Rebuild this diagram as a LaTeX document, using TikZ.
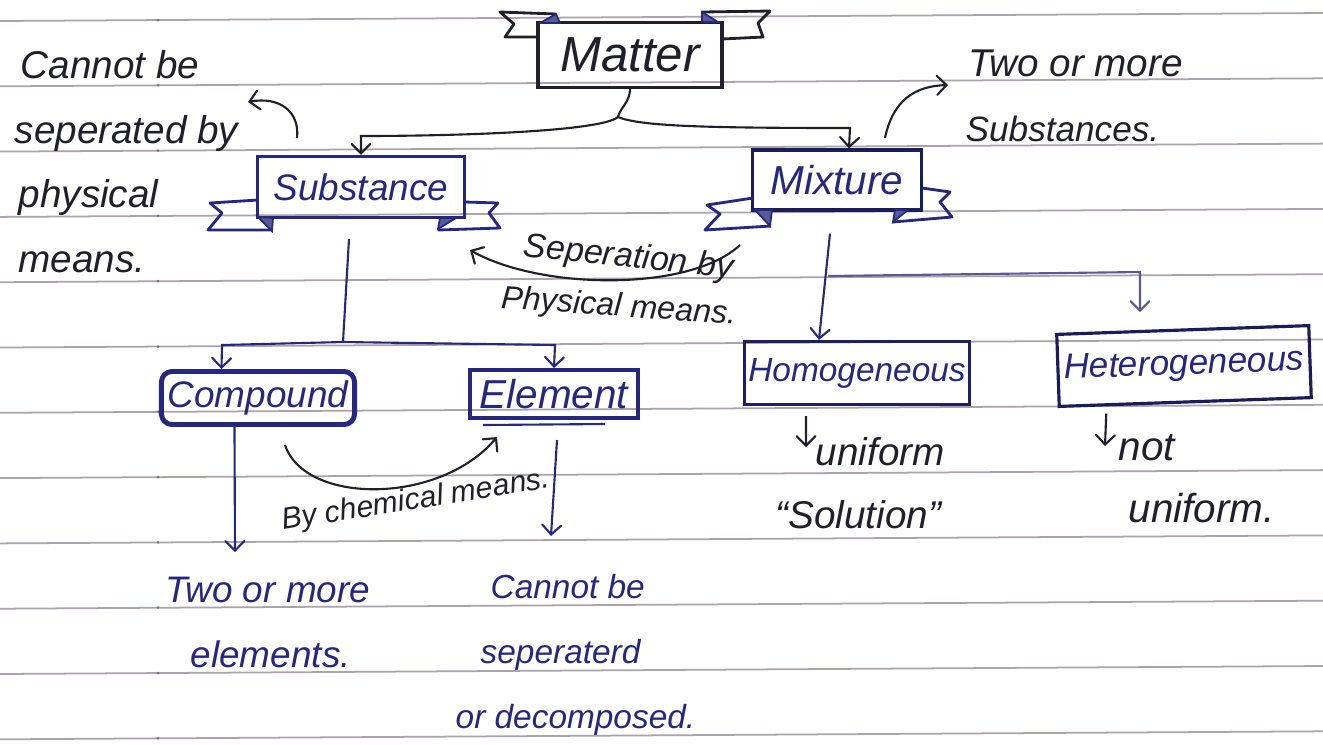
\documentclass[tikz,border=0pt]{standalone}
\usepackage{fontspec}
\setmainfont{Liberation Sans}
\usepackage{xcolor}
\usepackage{tikz}
\usetikzlibrary{arrows}

\definecolor{ink}{RGB}{38,40,128}
\definecolor{pen}{RGB}{32,32,44}
\definecolor{rule}{RGB}{172,162,172}
\definecolor{fold}{RGB}{88,90,150}

\tikzset{
  hand/.style={font=\itshape\fontsize{#1}{#1}\selectfont, text=pen, inner sep=0pt},
  hand/.default=11,
  inkhand/.style={hand=#1, text=ink},
  inkhand/.default=11,
  box/.style={draw=ink, line width=0.9pt, inner sep=0pt, font=\itshape\fontsize{#1}{#1}\selectfont, text=ink},
  box/.default=10.5,
  tab/.style={draw=ink, line width=0.8pt, line join=round},
  foldfill/.style={fill=fold, draw=ink, line width=0.5pt},
  link/.style={draw=pen, line width=0.6pt, ->, >=angle 90},
}

\begin{document}
\begin{tikzpicture}[x=0.01cm,y=-0.01cm]
		\useasboundingbox (0,0) rectangle (1323,744);
		\fill[white] (0,0) rectangle (1323,744);
		% ruled paper
		\foreach \i in {0,...,11} {
			\draw[rule, line width=0.5pt] (0,17+65.3*\i+4) -- (1323,17+65.3*\i-4);
			\fill[rule!70!black] (158,17+65.3*\i+3) circle (1.5);
		}
		%
		\node[box=14, draw=pen, text=pen, minimum width=1.84cm, minimum height=0.65cm] (matter) at (630,55) {Matter};
		\node[box=10.5, minimum width=2.07cm, minimum height=0.61cm] (substance) at (361,187) {Substance};
		\node[box=11.5, draw=ink!70!black, minimum width=1.69cm, minimum height=0.6cm] (mixture) at (837,180) {Mixture};
		\node[box=10.5, line width=1.4pt, rounded corners=3pt, minimum width=1.93cm, minimum height=0.53cm] (compound) at (258,398) {Compound};
		\node[box=11.5, line width=1.1pt, minimum width=1.68cm, minimum height=0.48cm] (element) at (554,394) {Element};
		\node[box=9.5, draw=ink!80!black, minimum width=2.25cm, minimum height=0.63cm] (homog) at (857,373) {Homogeneous};
		\node[box=10, draw=ink!70!black, rotate=2, minimum width=2.52cm, minimum height=0.72cm] (heterog) at (1184,366) {Heterogeneous};
		%
		% ribbon tabs
		\draw[tab, draw=pen] (556,14) -- (500,12) -- (514,24) -- (505,37) -- (538,37);
		\draw[tab, draw=pen] (702,12) -- (770,11) -- (758,23) -- (763,37) -- (722,39);
		\filldraw[foldfill] (540,23) -- (556,14) -- (560,23) -- cycle;
		\filldraw[foldfill] (702,12) -- (718,22) -- (702,22) -- cycle;
		\draw[tab] (258,200) -- (210,203) -- (222,213) -- (208,230) -- (272,230);
		\draw[tab] (465,202) -- (498,203) -- (489,213) -- (500,228) -- (438,230);
		\filldraw[foldfill] (258,217) -- (273,218) -- (272,231) -- cycle;
		\filldraw[foldfill] (438,229) -- (456,218) -- (440,218) -- cycle;
		\draw[tab] (753,198) -- (707,205) -- (720,214) -- (705,230) -- (771,226);
		\draw[tab] (922,188) -- (950,192) -- (940,202) -- (952,217) -- (893,222);
		\filldraw[foldfill] (755,210) -- (772,210) -- (770,226) -- cycle;
		\filldraw[foldfill] (893,222) -- (908,210) -- (895,210) -- cycle;
		\draw[ink, line width=0.6pt] (483,425) -- (605,424);
		%
		% notes
		\node[hand=11, anchor=base west] (subnote1) at (20,78) {Cannot be};
		\node[hand=11, anchor=base west] (subnote2) at (14,143) {seperated by};
		\node[hand=11, anchor=base west] (subnote3) at (18,207) {physical};
		\node[hand=11, anchor=base west] (subnote4) at (18,272) {means.};
		\node[hand=11, anchor=base west] (mixnote1) at (968,76) {Two or more};
		\node[hand=10, anchor=base west] (mixnote2) at (965,141) {Substances.};
		\node[hand=9.7, anchor=base west, rotate=-6] (seplabel1) at (522,256) {Seperation by};
		\node[hand=9.2, anchor=base west, rotate=-4] (seplabel2) at (500,308) {Physical means.};
		\node[hand=8.6, anchor=base west, rotate=9] (chemlabel) at (283,530) {By chemical means.};
		\node[inkhand=10.5, anchor=base west] (compnote1) at (165,602) {Two or more};
		\node[inkhand=10.5, anchor=base west] (compnote2) at (190,667) {elements.};
		\node[inkhand=9.5, anchor=base west] (elemnote1) at (490,598) {Cannot be};
		\node[inkhand=9.5, anchor=base west] (elemnote2) at (480,663) {seperaterd};
		\node[inkhand=9.5, anchor=base west] (elemnote3) at (455,728) {or decomposed.};
		\node[hand=11, anchor=base west] (homnote1) at (815,465) {uniform};
		\node[hand=11, anchor=base west] (homnote2) at (775,528) {``Solution''};
		\node[hand=11.5, anchor=base west] (hetnote1) at (1118,460) {not};
		\node[hand=11.5, anchor=base west] (hetnote2) at (1128,522) {uniform.};
		%
		% free ends
		\coordinate (mfork) at (618,117);
		\coordinate (sfork) at (343,342);
		\coordinate (xfork) at (828,276);
		\coordinate (hetin) at (1140,312);
		\coordinate (physfrom) at (297,138);
		\coordinate (physto) at (248,102);
		\coordinate (twofrom) at (885,138);
		\coordinate (twoto) at (948,85);
		\coordinate (sepfrom) at (740,245);
		\coordinate (septo) at (470,250);
		\coordinate (chemfrom) at (285,445);
		\coordinate (chemto) at (497,437);
		\coordinate (compout) at (235,552);
		\coordinate (elemfrom) at (557,440);
		\coordinate (elemout) at (551,536);
		\coordinate (homout) at (806,447);
		\coordinate (hetout) at (1105,446);
		%
		\draw[pen, line width=0.6pt] (matter.south) .. controls (630,102) and (620,108) .. (mfork);
		\draw[link] (mfork) .. controls (600,132) and (450,136) .. (361,136) -- (substance.north);
		\draw[link] (mfork) .. controls (640,126) and (700,128) .. (850,128) -- ([xshift=0.12cm]mixture.north);
		\draw[ink, line width=0.6pt] ([xshift=-0.12cm, yshift=-0.2cm]substance.south) -- (sfork);
		\draw[link, draw=ink] (sfork) -- (222,345) -- ([xshift=-0.365cm]compound.north);
		\draw[link, draw=ink] (sfork) -- (555,345) -- (element.north);
		\draw[link, draw=ink] ([xshift=-0.07cm, yshift=-0.22cm]mixture.south) -- ([xshift=-0.38cm]homog.north);
		\draw[link, draw=ink!60!rule] (xfork) -- (1140,272) -- (hetin);
		\draw[link] (physfrom) .. controls (300,112) and (280,96) .. (physto);
		\draw[link] (twofrom) .. controls (893,100) and (915,86) .. (twoto);
		\draw[link] (sepfrom) .. controls (690,292) and (540,290) .. (septo);
		\draw[link] (chemfrom) .. controls (305,505) and (440,505) .. (chemto);
		\draw[link, draw=ink] ([xshift=-0.235cm]compound.south) -- (compout);
		\draw[link, draw=ink] (elemfrom) -- (elemout);
		\draw[link] ([xshift=-0.51cm, yshift=-0.1cm]homog.south) -- (homout);
		\draw[link] ([xshift=-0.79cm, yshift=-0.1cm]heterog.south) -- (hetout);
\end{tikzpicture}
\end{document}
